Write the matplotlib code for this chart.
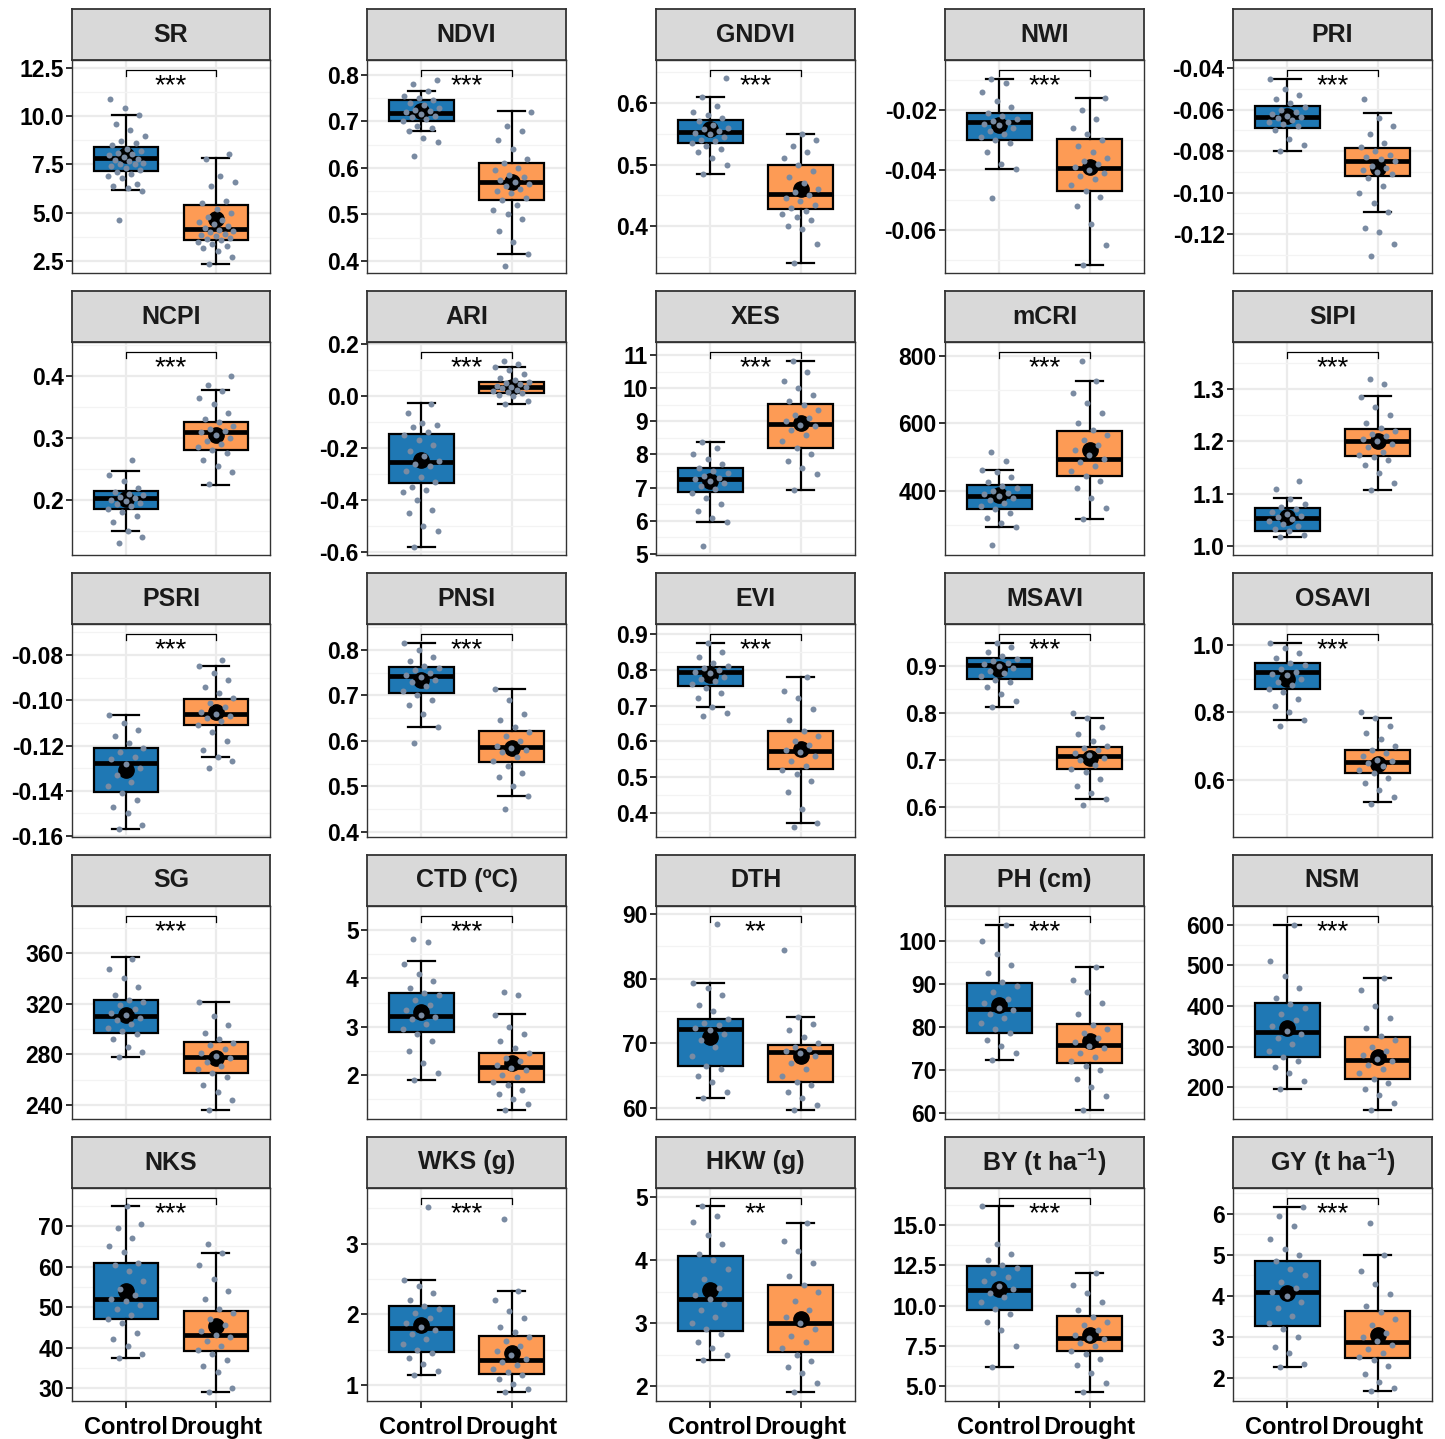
import numpy as np
import matplotlib
matplotlib.use("Agg")
import matplotlib.pyplot as plt
from matplotlib.ticker import AutoMinorLocator, FixedLocator
import matplotlib.transforms as mtransforms

plt.rcParams['font.family'] = ['Liberation Sans', 'DejaVu Sans']
plt.rcParams['mathtext.fontset'] = 'custom'
plt.rcParams['mathtext.bf'] = 'Liberation Sans:bold'
plt.rcParams['mathtext.rm'] = 'Liberation Sans:bold'
plt.rcParams['mathtext.default'] = 'bf'

# ---- data -------------------------------------------------------------
traits = ["SR", "NDVI", "GNDVI", "NWI", "PRI",
          "NCPI", "ARI", "XES", "mCRI", "SIPI",
          "PSRI", "PNSI", "EVI", "MSAVI", "OSAVI",
          "SG", "CTD", "DTH", "PH", "NSM",
          "NKS", "WKS", "HKW", "BY", "GY"]
titles = ["SR", "NDVI", "GNDVI", "NWI", "PRI",
          "NCPI", "ARI", "XES", "mCRI", "SIPI",
          "PSRI", "PNSI", "EVI", "MSAVI", "OSAVI",
          "SG", "CTD (ºC)", "DTH", "PH (cm)", "NSM",
          "NKS", "WKS (g)", "HKW (g)", r"BY (t ha$^{-1}$)", r"GY (t ha$^{-1}$)"]
signif = ["***"] * 17 + ["**"] + ["***"] * 4 + ["**"] + ["***"] * 2

treatments = ["Control", "Drought"]

# box summaries: lower whisker, Q1, median, Q3, upper whisker
control_box = [
    [6.18, 7.16, 7.85, 8.40, 10.05], [0.680, 0.700, 0.718, 0.745, 0.765],
    [0.485, 0.535, 0.553, 0.572, 0.610], [-0.0397, -0.0300, -0.0239, -0.0211, -0.0097],
    [-0.080, -0.0688, -0.0635, -0.0582, -0.0453],
    [0.1495, 0.186, 0.2037, 0.2145, 0.2463], [-0.58, -0.335, -0.255, -0.147, -0.025],
    [5.95, 6.87, 7.27, 7.59, 8.38], [293, 346.7, 384, 416.7, 463],
    [1.018, 1.028, 1.054, 1.072, 1.092],
    [-0.1567, -0.1405, -0.1275, -0.1212, -0.1064], [0.630, 0.705, 0.742, 0.763, 0.815],
    [0.696, 0.756, 0.794, 0.809, 0.875], [0.812, 0.871, 0.901, 0.916, 0.949],
    [0.778, 0.868, 0.919, 0.946, 1.006],
    [277.9, 296.6, 310.2, 322.6, 356.8], [1.89, 2.89, 3.22, 3.69, 4.35],
    [61.6, 66.5, 72.2, 73.8, 79.4], [72.3, 78.7, 84.1, 90.3, 103.7],
    [196, 275, 336, 408, 600],
    [37.3, 47.1, 52.0, 60.8, 75.0], [1.14, 1.47, 1.81, 2.12, 2.49],
    [2.42, 2.88, 3.38, 4.06, 4.85], [6.18, 9.74, 10.98, 12.43, 16.16],
    [2.28, 3.27, 4.10, 4.86, 6.18],
]
drought_box = [
    [2.35, 3.59, 4.16, 5.40, 7.84], [0.415, 0.530, 0.570, 0.610, 0.722],
    [0.340, 0.428, 0.452, 0.500, 0.550], [-0.0715, -0.0470, -0.0394, -0.0298, -0.0161],
    [-0.1095, -0.0919, -0.0848, -0.0784, -0.0618],
    [0.2247, 0.280, 0.3097, 0.3258, 0.378], [-0.030, 0.010, 0.035, 0.055, 0.110],
    [6.94, 8.21, 8.91, 9.53, 10.82], [318, 444.4, 495.7, 577.8, 725],
    [1.108, 1.172, 1.200, 1.224, 1.286],
    [-0.1250, -0.1108, -0.1062, -0.0996, -0.0849], [0.480, 0.554, 0.586, 0.621, 0.714],
    [0.371, 0.523, 0.573, 0.630, 0.780], [0.617, 0.681, 0.709, 0.727, 0.789],
    [0.536, 0.621, 0.654, 0.689, 0.784],
    [236, 265.6, 278.2, 289.7, 321.6], [1.27, 1.85, 2.16, 2.46, 3.27],
    [59.7, 64.0, 68.7, 69.8, 74.1], [60.6, 71.5, 75.7, 80.6, 94.0],
    [142.5, 219, 266.7, 323, 470],
    [29.0, 39.1, 43.0, 49.1, 63.3], [0.90, 1.16, 1.36, 1.69, 2.33],
    [1.90, 2.54, 3.00, 3.60, 4.59], [4.60, 7.19, 7.98, 9.33, 12.02],
    [1.68, 2.48, 2.87, 3.64, 5.00],
]
control_mean = [8.0, 0.722, 0.557, -0.025, -0.063, 0.202, -0.245, 7.2, 388, 1.055,
                -0.131, 0.735, 0.785, 0.893, 0.90, 311, 3.3, 71.0, 85.0, 345,
                54.0, 1.85, 3.52, 11.0, 4.07]
drought_mean = [4.68, 0.57, 0.461, -0.039, -0.088, 0.305, 0.035, 8.95, 520, 1.20,
                -0.105, 0.585, 0.58, 0.703, 0.648, 277, 2.25, 68.0, 76.8, 275,
                45.3, 1.45, 3.07, 8.2, 3.05]

# individual observations (Control / Drought)
SR_c = [4.62, 6.15, 6.3, 6.4, 6.5, 6.8, 6.9, 7.0, 7.1, 7.2, 7.3, 7.4, 7.5, 7.55, 7.6,
        7.7, 7.75, 7.8, 7.9, 8.0, 8.05, 8.1, 8.2, 8.3, 8.5, 8.6, 8.7, 9.0, 9.3, 9.6,
        10.05, 10.4, 10.9]
SR_d = [2.35, 2.7, 3.0, 3.2, 3.3, 3.4, 3.5, 3.6, 3.65, 3.7, 3.8, 3.85, 3.9, 4.0, 4.05,
        4.1, 4.2, 4.3, 4.4, 4.5, 4.6, 4.8, 5.0, 5.2, 5.5, 5.6, 6.4, 6.6, 6.9, 7.8, 8.05]
NDVI_c = [0.625, 0.655, 0.665, 0.68, 0.685, 0.69, 0.70, 0.705, 0.71, 0.712, 0.715,
          0.72, 0.722, 0.725, 0.728, 0.735, 0.74, 0.745, 0.75, 0.755, 0.765, 0.78, 0.79]
NDVI_d = [0.39, 0.415, 0.44, 0.465, 0.49, 0.50, 0.51, 0.52, 0.53, 0.535, 0.545, 0.55,
          0.555, 0.56, 0.565, 0.57, 0.575, 0.58, 0.585, 0.595, 0.60, 0.61, 0.62, 0.64,
          0.66, 0.68, 0.69, 0.72]
GNDVI_c = [0.485, 0.50, 0.51, 0.52, 0.525, 0.53, 0.535, 0.538, 0.54, 0.545, 0.55,
           0.552, 0.555, 0.558, 0.56, 0.565, 0.57, 0.575, 0.58, 0.585, 0.595, 0.61, 0.64]
GNDVI_d = [0.34, 0.37, 0.395, 0.40, 0.41, 0.415, 0.42, 0.425, 0.43, 0.435, 0.44, 0.445,
           0.45, 0.455, 0.46, 0.47, 0.48, 0.49, 0.50, 0.51, 0.52, 0.53, 0.54, 0.55]
NWI_c = [-0.0493, -0.0397, -0.038, -0.034, -0.031, -0.030, -0.029, -0.028, -0.027,
         -0.026, -0.025, -0.0245, -0.024, -0.0235, -0.023, -0.022, -0.021, -0.019,
         -0.017, -0.014, -0.011, -0.0097]
NWI_d = [-0.0715, -0.065, -0.058, -0.052, -0.049, -0.047, -0.045, -0.043, -0.042,
         -0.041, -0.040, -0.039, -0.038, -0.037, -0.036, -0.034, -0.032, -0.030,
         -0.028, -0.026, -0.023, -0.020, -0.0161]
PRI_c = [-0.080, -0.077, -0.074, -0.070, -0.068, -0.067, -0.066, -0.065, -0.064,
         -0.0635, -0.063, -0.062, -0.061, -0.060, -0.059, -0.057, -0.055, -0.053,
         -0.050, -0.0453]
PRI_d = [-0.1306, -0.125, -0.119, -0.117, -0.1095, -0.105, -0.100, -0.097, -0.093,
         -0.091, -0.090, -0.089, -0.088, -0.087, -0.085, -0.084, -0.083, -0.082,
         -0.080, -0.078, -0.076, -0.072, -0.068, -0.064, -0.055]
NCPI_c = [0.13, 0.14, 0.15, 0.165, 0.175, 0.18, 0.185, 0.19, 0.193, 0.195, 0.198, 0.20,
          0.203, 0.205, 0.208, 0.21, 0.213, 0.22, 0.23, 0.24, 0.265]
NCPI_d = [0.225, 0.245, 0.255, 0.265, 0.275, 0.28, 0.285, 0.29, 0.295, 0.30, 0.305,
          0.31, 0.312, 0.315, 0.32, 0.325, 0.33, 0.34, 0.355, 0.365, 0.375, 0.385, 0.40]
ARI_c = [-0.58, -0.52, -0.50, -0.45, -0.44, -0.40, -0.37, -0.36, -0.35, -0.33, -0.31,
         -0.29, -0.27, -0.26, -0.25, -0.23, -0.21, -0.19, -0.17, -0.15, -0.14, -0.12,
         -0.11, -0.105, -0.065, -0.03]
ARI_d = [-0.03, -0.02, 0.0, 0.005, 0.01, 0.015, 0.02, 0.025, 0.03, 0.033, 0.035, 0.04,
         0.045, 0.05, 0.055, 0.06, 0.07, 0.085, 0.10, 0.11, 0.125, 0.135]
XES_c = [5.25, 5.95, 6.1, 6.3, 6.5, 6.7, 6.85, 6.95, 7.05, 7.15, 7.2, 7.25, 7.3, 7.35,
         7.45, 7.5, 7.6, 7.7, 7.85, 8.0, 8.2, 8.38]
XES_d = [6.94, 7.4, 7.6, 7.8, 8.0, 8.2, 8.4, 8.6, 8.75, 8.85, 8.9, 9.0, 9.1, 9.2, 9.35,
         9.5, 9.6, 9.8, 10.0, 10.2, 10.5, 10.82]
mCRI_c = [240, 293, 305, 320, 335, 345, 355, 365, 372, 380, 385, 390, 395, 400, 408,
          415, 425, 440, 455, 463, 490, 515]
mCRI_d = [318, 350, 380, 410, 430, 445, 460, 475, 485, 495, 505, 520, 535, 550, 565,
          580, 600, 630, 660, 690, 725, 785]
SIPI_c = [1.018, 1.022, 1.028, 1.032, 1.038, 1.042, 1.048, 1.052, 1.055, 1.058, 1.062,
          1.066, 1.07, 1.075, 1.08, 1.09, 1.11, 1.125]
SIPI_d = [1.108, 1.12, 1.14, 1.155, 1.165, 1.17, 1.175, 1.18, 1.19, 1.195, 1.20, 1.205,
          1.21, 1.215, 1.22, 1.225, 1.235, 1.25, 1.265, 1.285, 1.31, 1.32]
PSRI_c = [-0.1567, -0.155, -0.150, -0.147, -0.144, -0.141, -0.138, -0.136, -0.133,
          -0.130, -0.128, -0.126, -0.125, -0.123, -0.121, -0.119, -0.116, -0.113,
          -0.110, -0.1064]
PSRI_d = [-0.130, -0.127, -0.125, -0.122, -0.118, -0.114, -0.111, -0.109, -0.108,
          -0.107, -0.106, -0.105, -0.103, -0.101, -0.099, -0.097, -0.094, -0.091,
          -0.088, -0.085, -0.082]
PNSI_c = [0.595, 0.63, 0.66, 0.68, 0.69, 0.70, 0.71, 0.72, 0.73, 0.735, 0.74, 0.745,
          0.75, 0.755, 0.76, 0.765, 0.775, 0.785, 0.80, 0.815]
PNSI_d = [0.45, 0.48, 0.50, 0.52, 0.53, 0.545, 0.555, 0.565, 0.575, 0.58, 0.585, 0.59,
          0.60, 0.61, 0.62, 0.63, 0.645, 0.66, 0.69, 0.714]
EVI_c = [0.67, 0.68, 0.696, 0.72, 0.735, 0.75, 0.76, 0.77, 0.775, 0.78, 0.79, 0.795,
         0.80, 0.805, 0.81, 0.82, 0.835, 0.85, 0.875]
EVI_d = [0.36, 0.371, 0.41, 0.46, 0.49, 0.51, 0.52, 0.53, 0.545, 0.56, 0.57, 0.575,
         0.59, 0.60, 0.615, 0.63, 0.66, 0.69, 0.72, 0.74, 0.78]
MSAVI_c = [0.812, 0.825, 0.84, 0.855, 0.865, 0.87, 0.878, 0.885, 0.89, 0.895, 0.90,
           0.903, 0.907, 0.91, 0.915, 0.92, 0.93, 0.94, 0.949]
MSAVI_d = [0.605, 0.617, 0.63, 0.645, 0.66, 0.675, 0.68, 0.69, 0.70, 0.705, 0.71,
           0.715, 0.72, 0.725, 0.73, 0.74, 0.755, 0.77, 0.789, 0.80]
OSAVI_c = [0.76, 0.778, 0.80, 0.82, 0.84, 0.86, 0.87, 0.88, 0.89, 0.90, 0.91, 0.915,
           0.92, 0.93, 0.94, 0.945, 0.96, 0.975, 0.99, 1.006]
OSAVI_d = [0.53, 0.55, 0.57, 0.59, 0.605, 0.62, 0.63, 0.64, 0.65, 0.655, 0.66, 0.67,
           0.68, 0.69, 0.70, 0.72, 0.74, 0.76, 0.784, 0.80]
SG_c = [278, 282, 286, 292, 296, 298, 301, 304, 307, 309, 311, 313, 316, 319, 321,
        323, 327, 333, 340, 347, 355]
SG_d = [236, 244, 250, 256, 262, 265, 268, 271, 274, 277, 279, 281, 284, 287, 289,
        292, 297, 303, 310, 321]
CTD_c = [1.89, 2.05, 2.25, 2.5, 2.7, 2.85, 2.95, 3.05, 3.15, 3.2, 3.25, 3.35, 3.45,
         3.55, 3.65, 3.7, 3.8, 3.95, 4.1, 4.3, 4.75, 4.82]
CTD_d = [1.27, 1.4, 1.5, 1.6, 1.7, 1.8, 1.85, 1.95, 2.0, 2.1, 2.15, 2.2, 2.3, 2.35,
         2.45, 2.55, 2.7, 2.85, 3.0, 3.25, 3.65, 3.72]
DTH_c = [61.6, 62.5, 64, 65, 66, 66.5, 68, 69.5, 70.5, 71.5, 72, 72.3, 72.8, 73.2,
         73.8, 75, 76, 77.5, 78.5, 79.4, 88.5]
DTH_d = [59.7, 60.5, 61.5, 62.5, 63.5, 64, 65, 66, 67, 68, 68.5, 68.8, 69.2, 69.5,
         70, 71, 72, 73, 74.1, 84.5]
PH_c = [72.3, 74, 75.5, 77, 78.5, 79.5, 81, 82, 83, 84, 84.5, 85.5, 86.5, 88, 89.5,
        90.5, 92.5, 94.5, 97, 100, 103.7]
PH_d = [60.6, 64, 66, 68, 70, 71, 72, 73, 74, 75, 75.5, 76.5, 77.5, 78.5, 79.5, 80.5,
        83, 85.5, 88, 91, 94]
NSM_c = [196, 215, 235, 250, 265, 275, 290, 305, 320, 330, 338, 350, 365, 380, 395,
         405, 420, 445, 475, 510, 600]
NSM_d = [142.5, 160, 180, 195, 210, 220, 235, 245, 255, 265, 270, 280, 290, 300, 315,
         325, 345, 370, 400, 440, 470]
NKS_c = [37.3, 38.5, 40.5, 42, 43.5, 46, 47, 48, 49.5, 50.5, 51.5, 52, 53, 54.5, 56.5,
         59, 60.5, 61, 63.5, 65, 67, 69.5, 70.5, 75]
NKS_d = [29, 30, 34, 35.5, 37, 38.5, 39.5, 40.5, 41.5, 42.5, 43, 44, 45.5, 47, 48.5,
         49.5, 52, 54, 57, 60.5, 63.3, 65.5]
WKS_c = [1.14, 1.2, 1.3, 1.38, 1.45, 1.5, 1.58, 1.65, 1.72, 1.78, 1.82, 1.88, 1.95,
         2.02, 2.08, 2.12, 2.2, 2.3, 2.4, 2.49, 3.52]
WKS_d = [0.90, 0.95, 1.02, 1.08, 1.14, 1.18, 1.23, 1.28, 1.33, 1.37, 1.42, 1.48, 1.55,
         1.62, 1.68, 1.75, 1.82, 1.95, 2.05, 2.2, 2.33, 3.35]
HKW_c = [2.42, 2.5, 2.6, 2.7, 2.82, 2.9, 3.0, 3.1, 3.2, 3.3, 3.38, 3.45, 3.55, 3.7,
         3.85, 4.0, 4.1, 4.25, 4.4, 4.6, 4.7, 4.85]
HKW_d = [1.90, 2.05, 2.2, 2.3, 2.4, 2.5, 2.6, 2.7, 2.8, 2.9, 3.0, 3.1, 3.2, 3.35, 3.5,
         3.6, 3.75, 3.95, 4.15, 4.3, 4.59]
BY_c = [6.18, 7.5, 8.5, 9.0, 9.5, 9.8, 10.2, 10.5, 10.8, 11.0, 11.2, 11.5, 11.8, 12.0,
        12.3, 12.5, 12.8, 13.2, 13.8, 16.16]
BY_d = [4.6, 5.2, 5.8, 6.3, 6.7, 7.0, 7.2, 7.5, 7.7, 7.9, 8.0, 8.2, 8.5, 8.8, 9.0, 9.3,
        9.7, 10.2, 10.8, 11.3, 12.02]
GY_c = [2.28, 2.35, 2.6, 2.75, 3.0, 3.2, 3.35, 3.5, 3.7, 3.85, 4.0, 4.1, 4.2, 4.35,
        4.5, 4.65, 4.85, 5.0, 5.15, 5.4, 5.7, 5.95, 6.18]
GY_d = [1.68, 1.75, 1.9, 2.1, 2.3, 2.45, 2.5, 2.6, 2.7, 2.8, 2.9, 3.0, 3.1, 3.3, 3.45,
        3.6, 3.75, 4.05, 4.3, 4.6, 5.0, 5.78]

control_pts = [SR_c, NDVI_c, GNDVI_c, NWI_c, PRI_c, NCPI_c, ARI_c, XES_c, mCRI_c, SIPI_c,
               PSRI_c, PNSI_c, EVI_c, MSAVI_c, OSAVI_c, SG_c, CTD_c, DTH_c, PH_c, NSM_c,
               NKS_c, WKS_c, HKW_c, BY_c, GY_c]
drought_pts = [SR_d, NDVI_d, GNDVI_d, NWI_d, PRI_d, NCPI_d, ARI_d, XES_d, mCRI_d, SIPI_d,
               PSRI_d, PNSI_d, EVI_d, MSAVI_d, OSAVI_d, SG_d, CTD_d, DTH_d, PH_d, NSM_d,
               NKS_d, WKS_d, HKW_d, BY_d, GY_d]

# ---- axis settings ----------------------------------------------------
yticks = [
    [2.5, 5.0, 7.5, 10.0, 12.5], [0.4, 0.5, 0.6, 0.7, 0.8], [0.4, 0.5, 0.6],
    [-0.06, -0.04, -0.02], [-0.12, -0.10, -0.08, -0.06, -0.04],
    [0.2, 0.3, 0.4], [-0.6, -0.4, -0.2, 0.0, 0.2], [5, 6, 7, 8, 9, 10, 11],
    [400, 600, 800], [1.0, 1.1, 1.2, 1.3],
    [-0.16, -0.14, -0.12, -0.10, -0.08], [0.4, 0.5, 0.6, 0.7, 0.8],
    [0.4, 0.5, 0.6, 0.7, 0.8, 0.9], [0.6, 0.7, 0.8, 0.9], [0.6, 0.8, 1.0],
    [240, 280, 320, 360], [2, 3, 4, 5], [60, 70, 80, 90], [60, 70, 80, 90, 100],
    [200, 300, 400, 500, 600],
    [30, 40, 50, 60, 70], [1, 2, 3], [2, 3, 4, 5], [5.0, 7.5, 10.0, 12.5, 15.0],
    [2, 3, 4, 5, 6],
]
decimals = [1, 1, 1, 2, 2, 1, 1, 0, 0, 1, 2, 1, 1, 1, 1, 0, 0, 0, 0, 0, 0, 0, 0, 1, 0]
ylims = [
    (1.88, 12.91), (0.374, 0.832), (0.3236, 0.670), (-0.0743, -0.0033), (-0.1388, -0.0361),
    (0.1113, 0.4548), (-0.6115, 0.2077), (4.97, 11.39), (210, 841.5), (0.983, 1.39),
    (-0.1604, -0.0663), (0.389, 0.857), (0.333, 0.928), (0.536, 0.989), (0.431, 1.062),
    (228.9, 397.1), (1.09, 5.497), (58.3, 91.24), (58.6, 108.1), (121, 646.9),
    (26.8, 79.4), (0.773, 3.79), (1.762, 5.143), (4.07, 17.3), (1.439, 6.634),
]

# ---- layout (pixels) --------------------------------------------------
W, H = 1445, 1439
col_left = [72, 367, 656, 945, 1233]
col_width = [198, 199, 199, 199, 199]
row_top = [60, 342, 624, 906, 1188]
panel_h = 213
strip_h = 51

box_colors = ["#1f78b4", "#fd9b55"]
point_color = "#7a8ba2"

fig = plt.figure(figsize=(W / 100, H / 100), dpi=100)

for i, key in enumerate(traits):
    r, c = divmod(i, 5)
    left = col_left[c] / W
    width = col_width[c] / W
    bottom = 1 - (row_top[r] + panel_h) / H
    ax = fig.add_axes([left, bottom, width, panel_h / H])

    # grid
    ax.set_axisbelow(True)
    ax.set_xlim(0.4, 2.6)
    ax.set_ylim(*ylims[i])
    ax.yaxis.set_major_locator(FixedLocator(yticks[i]))
    ax.yaxis.set_minor_locator(AutoMinorLocator(2))
    ax.set_yticklabels([f"{v:.{decimals[i]}f}" for v in yticks[i]])
    ax.set_xticks([1, 2])
    ax.grid(which="major", color="#ebebeb", lw=1.6)
    ax.grid(which="minor", axis="y", color="#f3f3f3", lw=0.9)
    ax.tick_params(which="minor", length=0)
    ax.tick_params(axis="y", which="major", length=4, width=1.4, color="#333333",
                   labelsize=16.5, pad=2)
    for lab in ax.get_yticklabels():
        lab.set_fontweight("bold")
    if r == 4:
        ax.set_xticklabels(treatments)
        ax.tick_params(axis="x", length=5, width=1.4, color="#333333",
                       labelsize=17, pad=6)
        for lab in ax.get_xticklabels():
            lab.set_fontweight("bold")
    else:
        ax.tick_params(axis="x", length=0, labelbottom=False)
    for sp in ax.spines.values():
        sp.set_color("#333333")
        sp.set_linewidth(1.0)

    # boxes
    stats = []
    for lab, b in zip(treatments, [control_box[i], drought_box[i]]):
        stats.append(dict(whislo=b[0], q1=b[1], med=b[2], q3=b[3], whishi=b[4],
                          fliers=[], label=lab))
    bp = ax.bxp(stats, positions=[1, 2], widths=0.72, capwidths=0.3,
                patch_artist=True, showfliers=False, manage_ticks=False,
                boxprops=dict(edgecolor="black", linewidth=1.6),
                medianprops=dict(color="black", linewidth=3.4),
                whiskerprops=dict(color="black", linewidth=1.6),
                capprops=dict(color="black", linewidth=1.6))
    for patch, col in zip(bp["boxes"], box_colors):
        patch.set_facecolor(col)

    # means and jittered observations
    ax.plot([1, 2], [control_mean[i], drought_mean[i]], "o", color="black",
            ms=11, ls="none", zorder=4)
    for pos, vals in zip([1, 2], [control_pts[i], drought_pts[i]]):
        n = len(vals)
        offs = ((np.arange(n) * 0.618034 + 0.31) % 1 - 0.5) * 0.42
        ax.plot(pos + offs, vals, "o", color=point_color, ms=4.3, mew=0,
                ls="none", zorder=5)

    # significance bracket
    trans = mtransforms.blended_transform_factory(ax.transData, ax.transAxes)
    ax.plot([1, 1, 2, 2], [0.925, 0.953, 0.953, 0.925], color="black", lw=0.9,
            transform=trans, clip_on=False, zorder=6)
    ax.text(1.5, 0.845, signif[i], transform=trans, ha="center", va="baseline",
            fontsize=20, color="black", zorder=6)

    # facet strip
    sax = fig.add_axes([left, 1 - row_top[r] / H, width, strip_h / H])
    sax.set_facecolor("#d9d9d9")
    sax.set_xticks([])
    sax.set_yticks([])
    for sp in sax.spines.values():
        sp.set_color("#333333")
        sp.set_linewidth(1.3)
    sax.text(0.5, 0.5, titles[i], ha="center", va="center", fontsize=18,
             fontweight="bold", color="#1a1a1a", transform=sax.transAxes)

fig.savefig("out.png", dpi=100)
